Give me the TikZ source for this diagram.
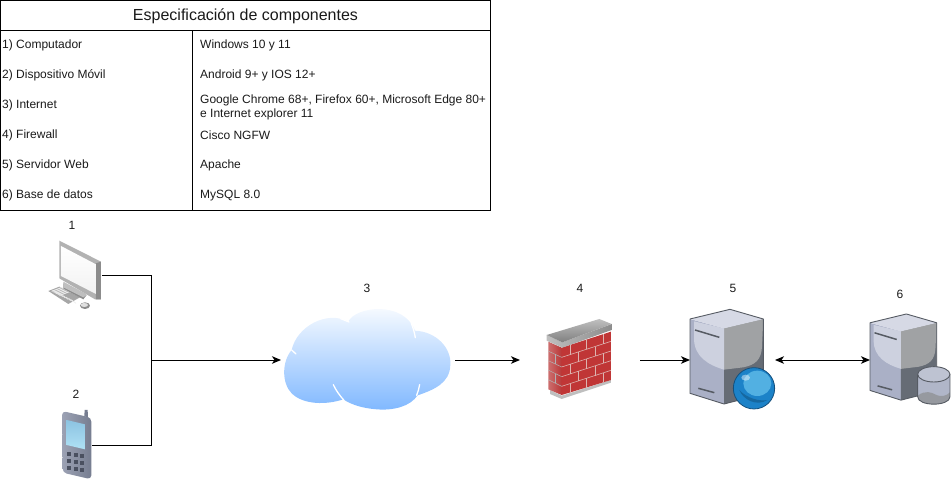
\documentclass[tikz,border=0pt]{standalone}
\usepackage{fontspec}
\setmainfont{Liberation Sans}
\usetikzlibrary{arrows.meta,calc}
\definecolor{txt}{HTML}{1A1A1A}
\definecolor{srvline}{HTML}{565B63}
\definecolor{srvleft}{HTML}{AAB0C6}
\definecolor{srvlow}{HTML}{666C75}
\definecolor{srvup}{HTML}{A0A2A4}
\definecolor{srvhi}{HTML}{CDD1DF}
\definecolor{srvtop}{HTML}{D6D9E5}
\definecolor{globe}{HTML}{1C82C8}
\definecolor{globehi}{HTML}{52B0E2}
\definecolor{globeedge}{HTML}{14507D}
\definecolor{phoneL}{HTML}{9CA2B4}
\definecolor{phoneR}{HTML}{767D90}
\definecolor{scrT}{HTML}{8CC3E1}
\definecolor{scrB}{HTML}{AFE1F5}
\definecolor{keyc}{HTML}{4A5060}
\definecolor{cloudB}{HTML}{80B8FF}
\definecolor{brickL}{HTML}{CD6E6E}
\definecolor{brickM}{HTML}{B93737}
\definecolor{brickR}{HTML}{C03636}
\definecolor{mortar}{HTML}{DDB4B0}
\definecolor{cylA}{HTML}{B0B6C8}
\definecolor{cylB}{HTML}{96999F}
\definecolor{cylC}{HTML}{BEC3D2}
\tikzset{
  x=1pt,y=-1pt,
  wire/.style={draw=black,line width=1pt},
  arrowwire/.style={wire,-{Stealth[length=9pt,width=7.5pt,inset=2.5pt]}},
  biwire/.style={wire,{Stealth[length=9pt,width=7.5pt,inset=2.5pt]}-{Stealth[length=9pt,width=7.5pt,inset=2.5pt]}},
  grid line/.style={draw=black,line width=1pt},
  celltext/.style={anchor=west,inner sep=0pt,font=\fontsize{12}{14.5}\selectfont,text=txt,align=left},
  numlabel/.style={inner sep=0pt,font=\fontsize{12}{14}\selectfont,text=txt},
  iconbox/.style={inner sep=0pt,outer sep=0pt},
  icon/.style={x=0.3333pt,y=-0.3333pt},
  crack/.style={draw=white,line width=1.3pt,line cap=round},
}
\newcommand{\serverbody}{%
  \fill[srvleft] (30,57) -- (132,85) -- (132,312) -- (30,280) -- cycle;
  \fill[srvlow] (132,85) -- (250,57) -- (250,282) -- (132,312) -- cycle;
  \fill[srvup] (132,85) -- (250,57) -- (246,140) .. controls (244,180) and (225,195) .. (190,202) -- (132,209) -- cycle;
  \fill[srvhi] (42,64) -- (132,85) -- (132,209) .. controls (85,195) and (42,170) .. (42,115) -- cycle;
  \fill[srvtop] (30,57) -- (150,28) -- (250,57) -- (132,85) -- cycle;
  \draw[srvline,line width=0.9pt,line join=round] (30,57) -- (150,28) -- (250,57) -- (250,282) -- (132,312) -- (30,280) -- cycle;
  \draw[srvline,line width=1.5pt] (45,90) -- (118,112);
  \draw[srvline,line width=1.5pt] (55,265) -- (103,278);
}
\begin{document}
\begin{tikzpicture}
\useasboundingbox (0,0) rectangle (951,481);
% table
\node[draw=black,line width=1pt,inner sep=0pt,outer sep=0pt,minimum width=490pt,minimum height=210pt] (tbl) at (245.5,105.5) {};
\coordinate (hl) at (0.5,30.5);
\coordinate (hr) at (490.5,30.5);
\coordinate (vt) at (192.5,30.5);
\coordinate (vb) at (192.5,210.5);
\draw[grid line] (hl) -- (hr);
\draw[grid line] (vt) -- (vb);
\node[inner sep=0pt,font=\fontsize{16}{18}\selectfont,text=txt] (title) at (245.5,16.5) {Especificación de componentes};
\node[celltext] (a1) at (2,45.7) {1) Computador};
\node[celltext] (a2) at (2,75.7) {2) Dispositivo Móvil};
\node[celltext] (a3) at (2,105.7) {3) Internet};
\node[celltext] (a4) at (2,135.7) {4) Firewall};
\node[celltext] (a5) at (2,165.7) {5) Servidor Web};
\node[celltext] (a6) at (2,195.7) {6) Base de datos};
\node[celltext] (b1) at (200,45.7) {Windows 10 y 11};
\node[celltext] (b2) at (200,75.7) {Android 9+ y IOS 12+};
\node[celltext] (b3) at (200,107.2) {Google Chrome 68+, Firefox 60+, Microsoft Edge 80+\\e Internet explorer 11};
\node[celltext] (b4) at (200,135.7) {Cisco NGFW};
\node[celltext] (b5) at (200,165.7) {Apache};
\node[celltext] (b6) at (200,195.7) {MySQL 8.0};
% labels
\node[numlabel] (n1) at (72,225.5) {1};
\node[numlabel] (n2) at (76,394.5) {2};
\node[numlabel] (n3) at (367,288.5) {3};
\node[numlabel] (n4) at (580,288.5) {4};
\node[numlabel] (n5) at (733,288.5) {5};
\node[numlabel] (n6) at (900,294.5) {6};
% anchor boxes
\node[iconbox,minimum width=53pt,minimum height=70pt] (pc) at (75.5,275.5) {};
\node[iconbox,minimum width=30pt,minimum height=70pt] (phone) at (77,445.5) {};
\node[iconbox,minimum width=174pt,minimum height=105pt] (cloud) at (368,360) {};
\node[iconbox,minimum width=120pt,minimum height=80pt] (fw) at (580,360) {};
\node[iconbox,minimum width=85pt,minimum height=100pt] (srv) at (732.5,360) {};
\node[iconbox,minimum width=81pt,minimum height=90pt] (db) at (910.5,360) {};
\coordinate (hub) at (151.5,360);
% PC icon
\begin{scope}[shift={(30,210)},icon]
  \fill[black!35] (55,243) -- (88,230) -- (150,262) -- (115,282) -- cycle;
  \foreach \k in {0,...,4}{
    \draw[black!8,line width=1pt] ({65+\k*6},{244+\k*3}) -- ({97+\k*6},{232+\k*3});
  }
  \foreach \k in {0,...,7}{
    \draw[black!8,line width=0.6pt] ({68+\k*8},{241+\k*4}) -- ({82+\k*8},{252+\k*4});
  }
  \fill[black!45] (100,220) -- (170,255) -- (160,268) -- (100,236) -- cycle;
  \fill[black!25] (100,215) -- (165,250) -- (170,255) -- (160,262) -- (100,232) -- cycle;
  \fill[black!30] (88,92) -- (213,155) -- (213,268) -- (195,268) -- (88,205) -- cycle;
  \fill[black!45] (198,160) -- (213,155) -- (213,268) -- (198,268) -- cycle;
  \shade[top color=white,bottom color=black!5] (93,108) -- (198,163) -- (198,252) -- (93,198) -- cycle;
  \fill[black!45] (165,287) ellipse (15 and 10);
  \fill[black!12] (163,285) ellipse (11 and 6);
\end{scope}
% Phone icon
\begin{scope}[shift={(40,380)},icon]
  \fill[phoneR] (133,108) -- (134,90) -- (143,90) -- (144,114) -- cycle;
  \shade[left color=phoneL,right color=phoneR,rounded corners=4pt] (66,93) -- (154,113) -- (154,298) -- (68,278) -- cycle;
  \shade[top color=scrT,bottom color=scrB] (80,120) -- (135,133) -- (135,208) -- (80,195) -- cycle;
  \foreach \c in {0,1,2}{\foreach \r in {0,1,2}{
    \fill[keyc] ({81+\c*20},{215+\r*21+\c*3}) rectangle ({93+\c*20},{227+\r*21+\c*3});
  }}
\end{scope}
% Cloud icon
\begin{scope}[shift={(270,290)},icon]
  \shade[top color=white,bottom color=cloudB]
    (65,180) .. controls (80,110) and (170,60) .. (235,95)
    .. controls (255,50) and (400,30) .. (435,122)
    .. controls (500,125) and (545,175) .. (541,225)
    .. controls (540,280) and (490,300) .. (443,316)
    .. controls (420,350) and (370,362) .. (320,358)
    .. controls (280,355) and (245,345) .. (220,328)
    .. controls (170,345) and (100,345) .. (65,310)
    .. controls (35,280) and (35,215) .. (65,180) -- cycle;
  \draw[crack] (65,180) -- (78,192);
  \draw[crack] (212,86) -- (237,96);
  \draw[crack] (424,100) .. controls (430,115) and (434,130) .. (436,143);
  \draw[crack] (190,284) .. controls (197,300) and (210,318) .. (222,331);
  \draw[crack] (449,284) .. controls (447,295) and (444,306) .. (440,316);
\end{scope}
% Firewall icon
\begin{scope}[shift={(510,300)},icon]
  \fill[black!25] (120,270) -- (155,287) -- (303,240) -- (303,248) -- (155,297) -- (120,282) -- cycle;
  \shade[left color=brickL,right color=brickM] (115,125) -- (155,143) -- (155,285) -- (115,268) -- cycle;
  \fill[brickR] (155,143) -- (303,95) -- (303,240) -- (155,285) -- cycle;
  \foreach \k in {1,...,4}{
    \draw[mortar,line width=0.6pt] (155,{143+\k*29}) -- (303,{95+\k*29});
    \draw[black!30,line width=0.5pt] (115,{125+\k*28.5}) -- (155,{143+\k*29});
  }
  \foreach \k in {0,2,4}{\foreach \v in {180,230,280}{
    \draw[mortar,line width=0.7pt] (\v,{143+\k*29-(\v-155)*0.3243}) -- (\v,{172+\k*29-(\v-155)*0.3243});
  }}
  \foreach \k in {1,3}{\foreach \v in {205,255}{
    \draw[mortar,line width=0.7pt] (\v,{143+\k*29-(\v-155)*0.3243}) -- (\v,{172+\k*29-(\v-155)*0.3243});
  }}
  \foreach \k in {1,3}{
    \draw[black!30,line width=0.5pt] (136,{134+\k*29}) -- (136,{163+\k*29});
  }
  \shade[left color=black!25,right color=black!45] (110,105) -- (157,127) -- (305,72) -- (305,90) -- (157,143) -- (110,122) -- cycle;
  \shade[top color=black!25,bottom color=black!50] (110,105) -- (268,57) -- (305,72) -- (157,127) -- cycle;
\end{scope}
% Web server icon
\begin{scope}[shift={(680,300)},icon]
  \serverbody
  \fill[globe] (222,265) circle (62);
  \fill[globehi] (232,250) ellipse (42 and 38);
  \fill[globe!80!black] (178,270) .. controls (190,300) and (230,320) .. (262,300) .. controls (240,305) and (200,295) .. (178,270) -- cycle;
  \draw[globeedge,line width=0.8pt] (222,265) circle (62);
  \fill[white,opacity=0.45] (197,233) ellipse (13 and 9);
\end{scope}
% Database icon
\begin{scope}[shift={(860.9,305.5)},x=0.3033pt,y=-0.3033pt]
  \serverbody
\end{scope}
\begin{scope}[shift={(860,305)},icon]
  \fill[cylA] (173,208) -- (173,275) .. controls (173,305) and (270,305) .. (270,275) -- (270,208) -- cycle;
  \fill[cylB] (173,272) .. controls (195,255) and (215,262) .. (225,268) .. controls (245,278) and (260,272) .. (270,262) -- (270,275) .. controls (270,305) and (173,305) .. (173,275) -- cycle;
  \fill[cylC] (221.5,208) ellipse (48.5 and 23);
  \draw[srvline,line width=0.9pt] (173,208) -- (173,275) .. controls (173,305) and (270,305) .. (270,275) -- (270,208);
  \draw[srvline,line width=0.9pt] (221.5,208) ellipse (48.5 and 23);
\end{scope}
% connectors
\draw[wire] (pc.east) -| (hub);
\draw[wire] (phone.east) -| (hub);
\draw[arrowwire] (hub) -- (cloud.west);
\draw[arrowwire] (cloud.east) -- (fw.west);
\draw[arrowwire] (fw.east) -- (srv.west);
\draw[biwire] (srv.east) -- (db.west);
\end{tikzpicture}
\end{document}
